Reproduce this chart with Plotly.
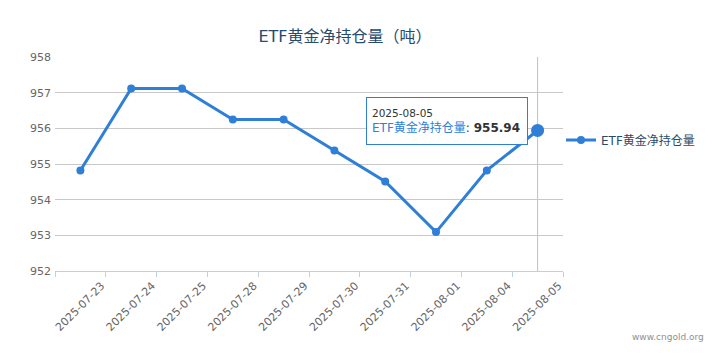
import plotly.graph_objects as go

dates = ["2025-07-23", "2025-07-24", "2025-07-25", "2025-07-28", "2025-07-29",
         "2025-07-30", "2025-07-31", "2025-08-01", "2025-08-04", "2025-08-05"]
holdings = [954.82, 957.12, 957.12, 956.25, 956.25, 955.38, 954.51, 953.09, 954.82, 955.94]
series_name = "ETF黄金净持仓量"
title_text = "ETF黄金净持仓量（吨）"
y_ticks = [952, 953, 954, 955, 956, 957, 958]

BLUE = "#2f7ed8"
FONT = "DejaVu Sans, Noto Sans CJK SC, sans-serif"
OFF = 8  # page body margin
W, H = 719 - OFF, 362 - OFF
# plot area in screen pixels: x 55..563, y 57..271
L, R, T, B = 55 - OFF, 719 - 563, 57 - OFF, 362 - 271
PW, PH = W - L - R, H - T - B

def px_x(px):
    return (px - OFF - L) / PW

def px_y(py):
    return (H - B - (py - OFF)) / PH

fig = go.Figure()
fig.add_trace(go.Scatter(
    x=dates, y=holdings, name=series_name, mode="lines+markers",
    line=dict(color=BLUE, width=3),
    marker=dict(color=BLUE, size=8),
    hoverinfo="skip",
))
fig.add_trace(go.Scatter(
    x=[dates[-1]], y=[holdings[-1]], mode="markers", showlegend=False,
    marker=dict(color=BLUE, size=13),
    hoverinfo="skip",
))

fig.add_shape(type="line", xref="x", yref="paper", x0=dates[-1], x1=dates[-1],
              y0=0, y1=1, line=dict(color="#c0c0c0", width=1), layer="below")

tip = (f"<span style='font-size:10.5px;color:#333333'>{dates[-1]}</span><br>"
       f"<span style='color:{BLUE}'>{series_name}</span>: <b>{holdings[-1]:.2f}</b>")
fig.add_annotation(
    xref="paper", yref="paper", x=px_x(447), y=px_y(121),
    xanchor="center", yanchor="middle", text=tip, showarrow=False,
    align="left", bgcolor="rgba(255,255,255,0.95)", bordercolor=BLUE,
    borderwidth=1, borderpad=5, width=150, height=36,
    font=dict(family=FONT, size=12, color="#333333"),
)
fig.add_annotation(
    xref="paper", yref="paper", x=px_x(706), y=px_y(337),
    xanchor="right", yanchor="middle", text="www.cngold.org", showarrow=False,
    font=dict(family=FONT, size=9, color="#909090"),
)

fig.update_layout(
    width=W, height=H,
    margin=dict(l=L, r=R, t=T, b=B, autoexpand=False),
    paper_bgcolor="white", plot_bgcolor="white",
    title=dict(text=title_text, xref="container", x=(345 - OFF) / W, xanchor="center",
               yref="container", y=1 - (36 - OFF) / H, yanchor="middle",
               font=dict(family=FONT, size=16, color="#274b6d")),
    font=dict(family=FONT, size=11, color="#666666"),
    showlegend=True,
    legend=dict(x=px_x(561), y=px_y(140), xanchor="left", yanchor="middle",
                font=dict(family=FONT, size=12, color="#274b6d"),
                itemwidth=30, bgcolor="rgba(0,0,0,0)"),
    hovermode=False,
)
fig.update_xaxes(
    type="category", categoryorder="array", categoryarray=dates,
    tickson="boundaries", ticks="outside", ticklen=5, tickcolor="#C0D0E0",
    showline=True, linecolor="#C0D0E0", linewidth=1, showgrid=False,
    tickangle=-45, ticklabelshift=21, ticklabelstandoff=3,
    tickfont=dict(family=FONT, size=11, color="#666666"),
    range=[-0.5, len(dates) - 0.5], zeroline=False,
)
fig.update_yaxes(
    range=[952, 958], tickvals=y_ticks, showgrid=True, gridcolor="#c8c8c8",
    gridwidth=1, zeroline=False, showline=False, ticks="", ticklabelstandoff=3,
    tickfont=dict(family=FONT, size=11, color="#666666"),
)

fig.write_html("out.html")
